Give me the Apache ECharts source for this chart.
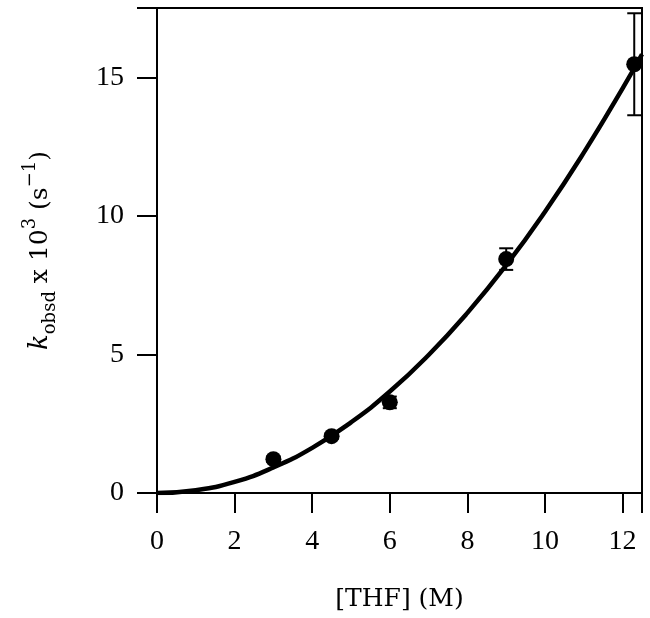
<!DOCTYPE html>
<html>
<head>
<meta charset="utf-8">
<script src="https://cdn.jsdelivr.net/npm/echarts@6/dist/echarts.min.js"></script>
<style>html,body{margin:0;padding:0;background:#fff}#c{width:650px;height:618px}</style>
</head>
<body>
<div id="c"></div>
<script>
// measured data
var thf = [3.0, 4.5, 6.0, 9.0, 12.3];
var kobs = [1.22, 2.05, 3.27, 8.44, 15.47];
var kerr = [0.1, 0.1, 0.21, 0.39, 1.84];
// fit curve
var fitX = [0, 1, 2, 3, 4, 5, 6, 7, 8, 9, 10, 11, 12, 12.5];
var fitY = [0, 0.1, 0.4, 0.92, 1.63, 2.55, 3.66, 4.98, 6.5, 8.22, 10.15, 12.28, 14.6, 15.83];
var xTicks = [0, 2, 4, 6, 8, 10, 12];
var yTicks = [0, 5, 10, 15];

var FONT = 'Liberation Serif';
var NFONT = 'DejaVu Serif';
var chart = echarts.init(document.getElementById('c'));
var pts = thf.map(function (x, i) { return [x, kobs[i]]; });
var errs = thf.map(function (x, i) { return [x, kobs[i] - kerr[i], kobs[i] + kerr[i]]; });
var fit = fitX.map(function (x, i) { return [x, fitY[i]]; });

chart.setOption({
  animation: false,
  backgroundColor: '#fff',
  grid: { left: 157, right: 8, top: 8, bottom: 125, show: true, borderColor: '#000', borderWidth: 2 },
  xAxis: {
    type: 'value', min: 0, max: 12.5, interval: 2,
    axisLine: { lineStyle: { color: '#000', width: 2 } },
    axisTick: { length: 20, lineStyle: { color: '#000', width: 2 } },
    splitLine: { show: false },
    axisLabel: { color: '#000', fontFamily: FONT, fontSize: 28, margin: 35,
      formatter: function (v) { return xTicks.indexOf(v) >= 0 ? String(v) : ''; } },
    name: '[THF] (M)', nameLocation: 'middle', nameGap: 94,
    nameTextStyle: { color: '#000', fontFamily: NFONT, fontSize: 25 }
  },
  yAxis: {
    type: 'value', min: 0, max: 17.5, interval: 5,
    axisLine: { lineStyle: { color: '#000', width: 2 } },
    axisTick: { length: 20, lineStyle: { color: '#000', width: 2 } },
    splitLine: { show: false },
    axisLabel: { color: '#000', fontFamily: FONT, fontSize: 28, margin: 33,
      formatter: function (v) { return yTicks.indexOf(v) >= 0 ? String(v) : ''; } },
    name: '{k|k}{sub|obsd}{t| x 10}{sup|3}{t| (s}{sup|−1}{t|)}',
    nameLocation: 'middle', nameGap: 97, nameRotate: 90,
    nameTextStyle: {
      color: '#000', fontFamily: NFONT, fontSize: 25,
      rich: {
        k: { fontFamily: NFONT, fontSize: 26, fontStyle: 'italic', color: '#000', lineHeight: 40, verticalAlign: 'middle' },
        t: { fontFamily: NFONT, fontSize: 25, color: '#000', lineHeight: 40, verticalAlign: 'middle' },
        sub: { fontFamily: NFONT, fontSize: 18, color: '#000', lineHeight: 40, verticalAlign: 'bottom', padding: [0, 0, 1, 0] },
        sup: { fontFamily: NFONT, fontSize: 18, color: '#000', lineHeight: 40, verticalAlign: 'top', padding: [1, 0, 0, 0] }
      }
    }
  },
  series: [
    {
      type: 'line', data: fit, smooth: true, symbol: 'none',
      lineStyle: { color: '#000', width: 4.5 }, z: 2
    },
    {
      type: 'custom', data: errs, z: 3,
      renderItem: function (params, api) {
        var x = api.value(0);
        var lo = api.coord([x, api.value(1)]);
        var hi = api.coord([x, api.value(2)]);
        var w = 7;
        var st = { stroke: '#000', lineWidth: 2 };
        return { type: 'group', children: [
          { type: 'line', shape: { x1: lo[0], y1: lo[1], x2: hi[0], y2: hi[1] }, style: st },
          { type: 'line', shape: { x1: lo[0] - w, y1: lo[1], x2: lo[0] + w, y2: lo[1] }, style: st },
          { type: 'line', shape: { x1: hi[0] - w, y1: hi[1], x2: hi[0] + w, y2: hi[1] }, style: st }
        ] };
      }
    },
    {
      type: 'scatter', data: pts, symbol: 'circle', symbolSize: 16,
      itemStyle: { color: '#000', opacity: 1 }, z: 4
    }
  ]
});
</script>
</body>
</html>
